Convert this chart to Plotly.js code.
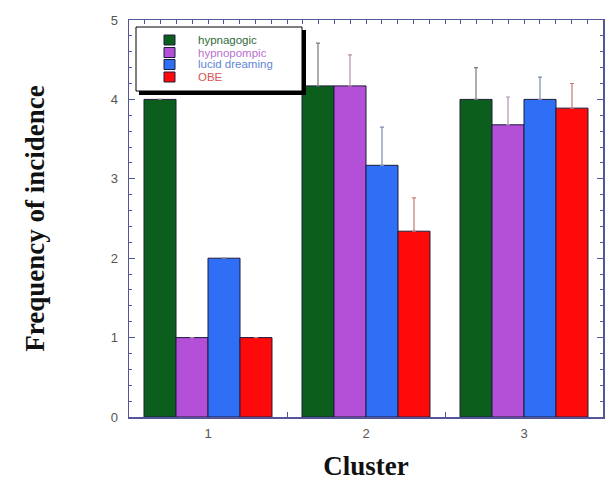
<!DOCTYPE html>
<html>
<head>
<meta charset="utf-8">
<script src="https://cdn.plot.ly/plotly-3.0.1.min.js"></script>
<style>html,body{margin:0;padding:0;background:#fff;}#chart{width:608px;height:484px;}</style>
</head>
<body>
<div id="chart"></div>
<script>
var clusters = [1, 2, 3];
var seriesNames = ["hypnagogic", "hypnopompic", "lucid dreaming", "OBE"];
var hypnagogic = [4.0, 4.17, 4.0];
var hypnopompic = [1.0, 4.17, 3.68];
var lucidDreaming = [2.0, 3.17, 4.0];
var obe = [1.0, 2.34, 3.89];
var errHypnagogic = [0, 0.54, 0.40];
var errHypnopompic = [0, 0.39, 0.35];
var errLucid = [0, 0.48, 0.28];
var errObe = [0, 0.42, 0.31];
var yTickVals = [0, 1, 2, 3, 4, 5];
var xTickLabels = ["1", "2", "3"];

var values = [hypnagogic, hypnopompic, lucidDreaming, obe];
var errs = [errHypnagogic, errHypnopompic, errLucid, errObe];
var colors = ["#0b5e1c", "#b44fd8", "#2e6ff6", "#ff0a0a"];
var errColors = ["#7a7a7a", "#b58fae", "#7d8db0", "#c87a7a"];
var textColors = ["#2f6b3a", "#b96fd0", "#5f86d6", "#d9534f"];

var axisColor = "#55559a";

var traces = values.map(function (v, i) {
  return {
    type: "bar",
    x: clusters,
    y: v,
    name: seriesNames[i],
    marker: { color: colors[i], line: { color: "#1c1c3c", width: 1 } },
    error_y: {
      type: "data", array: errs[i], arrayminus: errs[i].map(function(){return 0;}),
      symmetric: false, color: errColors[i], thickness: 1.2, width: 2
    },
    showlegend: false
  };
});
// dummy trace for top axis ticks
traces.push({ type: "scatter", x: [0.5, 3.5], y: [0, 0], xaxis: "x2", mode: "none", showlegend: false, hoverinfo: "skip" });

var L = 129, R = 603, T = 20, B = 417;
function px(x) { return (x - L) / (R - L); }
function py(y) { return (B - y) / (B - T); }

var shapes = [];
var annotations = [];
// legend shadow and box
shapes.push({ type: "rect", xref: "paper", yref: "paper", x0: px(139), x1: px(306), y0: py(95), y1: py(30), fillcolor: "#000", line: { width: 0 } });
shapes.push({ type: "rect", xref: "paper", yref: "paper", x0: px(136), x1: px(302), y0: py(91), y1: py(27), fillcolor: "#fff", line: { color: "#000", width: 1 } });
var rowY = [40, 52.5, 64.5, 77];
seriesNames.forEach(function (n, i) {
  shapes.push({ type: "rect", xref: "paper", yref: "paper", x0: px(164), x1: px(175), y0: py(rowY[i] + 5), y1: py(rowY[i] - 5), fillcolor: colors[i], line: { color: "#1c1c3c", width: 1 } });
  annotations.push({ xref: "paper", yref: "paper", x: px(196), y: py(rowY[i]), xanchor: "left", yanchor: "middle", text: n, showarrow: false, height: 12, font: { family: "Arial, Liberation Sans, sans-serif", size: 11.5, color: textColors[i] } });
});

var layout = {
  width: 608, height: 484,
  margin: { l: L, r: 608 - R, t: T, b: 484 - B },
  paper_bgcolor: "#fff", plot_bgcolor: "#fff",
  barmode: "group", bargap: 0.19, bargroupgap: 0,
  showlegend: false,
  font: { family: "Arial, Liberation Sans, sans-serif", size: 12, color: "#555" },
  xaxis: {
    range: [0.5, 3.5], tickvals: clusters, ticktext: xTickLabels,
    ticks: "inside", ticklen: 0, tickcolor: axisColor, ticklabelstandoff: 4,
    showline: true, linecolor: axisColor, linewidth: 1.5, mirror: true,
    showgrid: false, zeroline: false,
    tickfont: { size: 13, color: "#555" },
    minor: { tickvals: [1.5, 2.5], ticks: "inside", ticklen: 5, tickcolor: axisColor, showgrid: false },
    title: { text: "Cluster", font: { family: "Liberation Serif, Times New Roman, serif", size: 27, color: "#111", weight: "bold" }, standoff: 16 }
  },
  xaxis2: {
    overlaying: "x", side: "top", range: [0.5, 3.5], dtick: 0.1, tick0: 0.5,
    ticks: "inside", ticklen: 4, tickcolor: axisColor, showticklabels: false,
    showgrid: false, zeroline: false, showline: false
  },
  yaxis: {
    range: [0, 5], tickvals: yTickVals,
    ticks: "inside", ticklen: 6, tickcolor: axisColor, ticklabelstandoff: 7,
    showline: true, linecolor: axisColor, linewidth: 1.5, mirror: "ticks",
    showgrid: false, zeroline: false,
    tickfont: { size: 13, color: "#555" },
    minor: { dtick: 0.2, ticks: "inside", ticklen: 3, tickcolor: axisColor, showgrid: false },
    title: { text: "Frequency of incidence", font: { family: "Liberation Serif, Times New Roman, serif", size: 27, color: "#111", weight: "bold" }, standoff: 58 }
  },
  shapes: shapes,
  annotations: annotations
};

Plotly.newPlot("chart", traces, layout, { displayModeBar: false, staticPlot: true });
</script>
</body>
</html>
